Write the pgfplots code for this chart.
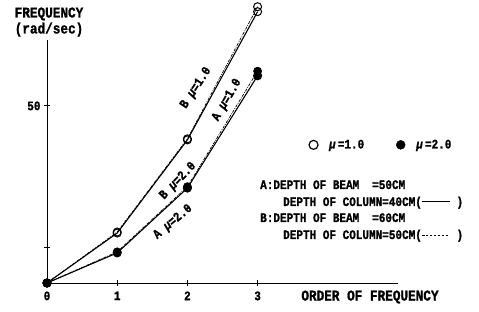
\documentclass[border=0pt]{standalone}
\usepackage{pgfplots}
\pgfplotsset{compat=1.18}
\usepackage{fontspec}
\newfontfamily\cf{Liberation Mono}[FakeStretch=0.85, FakeBold=1.2]
\newcommand{\lab}{\cf\bfseries\fontsize{13}{13}\selectfont}
\newcommand{\mub}{{\itshape μ}}
\newcommand{\solidsample}{\rule[0.3em]{28bp}{1pt}}
\newcommand{\dashsample}{\makebox[28bp][l]{\xleaders\hbox{\rule[0.3em]{2.4bp}{0.6pt}\hspace{1.4bp}}\hskip28bp}}
\begin{document}
\begin{tikzpicture}
\useasboundingbox (-47bp,-29bp) rectangle (432bp,283bp);
\begin{axis}[
 at={(0,0)}, anchor=origin,
 scale only axis, width=351bp, height=243bp,
 xmin=0, xmax=5, ymin=0, ymax=68.6,
 axis x line=bottom, axis y line=left,
 axis line style={-, line width=1pt},
 xtick={0,1,2,3}, xticklabels={0,1,2,3},
 ytick={10,50}, yticklabels={,50},
 tick align=center, major tick length=6bp,
 tick style={line width=0.8pt, black},
 ticklabel style={font=\lab},
 xticklabel style={yshift=-2bp},
 clip=false,
 legend cell align=left,
 legend columns=2,
 legend style={draw=none, fill=none, at={(axis cs:3.73,39)}, anchor=west,
   font=\lab, inner sep=0pt,
   /tikz/every even column/.append style={column sep=30bp}},
 legend image code/.code={\draw[#1] plot coordinates {(0bp,0bp)};},
]
\addlegendimage{only marks, mark=o, mark size=4.5bp, mark options={line width=1.2pt}}
\addlegendentry{\hspace{9bp}\mub\,=1.0}
\addlegendimage{only marks, mark=*, mark size=4.5bp}
\addlegendentry{\hspace{9bp}\mub\,=2.0}
% A, mu=1.0 (solid, open)
\addplot[line width=1.1pt, mark=o, mark size=4bp, mark options={solid, line width=1pt}]
 coordinates {(0,0) (1,14.1) (2,40.4) (3,76.6)};
% B, mu=1.0 (dash-dot, open)
\addplot[line width=0.7pt, dash pattern={on 3pt off 1.2pt on 0.8pt off 1.2pt}, mark=o, mark size=4bp, mark options={solid, line width=1pt}]
 coordinates {(0,0) (1,14.4) (2,40.7) (3,78.0)};
% A, mu=2.0 (solid, filled)
\addplot[line width=1.1pt, mark=*, mark size=4bp, mark options={solid}]
 coordinates {(0,0) (1,8.5) (2,26.8) (3,58.5)};
% B, mu=2.0 (dash-dot, filled)
\addplot[line width=0.7pt, dash pattern={on 3pt off 1.2pt on 0.8pt off 1.2pt}, mark=*, mark size=4bp, mark options={solid}]
 coordinates {(0,0) (1,8.8) (2,27.2) (3,59.8)};
\end{axis}
% curve labels
\node[rotate=57, inner sep=0pt, font=\lab] at (149bp,195bp) {B \mub=1.0};
\node[rotate=60, inner sep=0pt, font=\lab] at (180bp,183bp) {A \mub=1.0};
\node[rotate=46, inner sep=0pt, font=\lab] at (131bp,102bp) {B \mub=2.0};
\node[rotate=40, inner sep=0pt, font=\lab] at (126bp,61bp) {A \mub=2.0};
% axis titles
\node[align=center, inner sep=0pt, font=\cf\bfseries\fontsize{15}{16}\selectfont] at (2bp,261bp) {FREQUENCY\\(rad/sec)};
\node[inner sep=0pt, font=\cf\bfseries\fontsize{15}{16}\selectfont] at (323bp,-14bp) {ORDER OF FREQUENCY};
% description block
\begin{scope}[every node/.style={anchor=base west, inner sep=0pt, font=\cf\bfseries\fontsize{13}{17}\selectfont}]
\node at (213bp,94bp) {A:DEPTH OF BEAM};
\node at (325bp,94bp) {=50CM};
\node at (236bp,77bp) {DEPTH OF COLUMN=40CM(\solidsample\phantom{0})};
\node at (213bp,61bp) {B:DEPTH OF BEAM};
\node at (325bp,61bp) {=60CM};
\node at (236bp,44bp) {DEPTH OF COLUMN=50CM(\dashsample\phantom{0})};
\end{scope}
\end{tikzpicture}
\end{document}
